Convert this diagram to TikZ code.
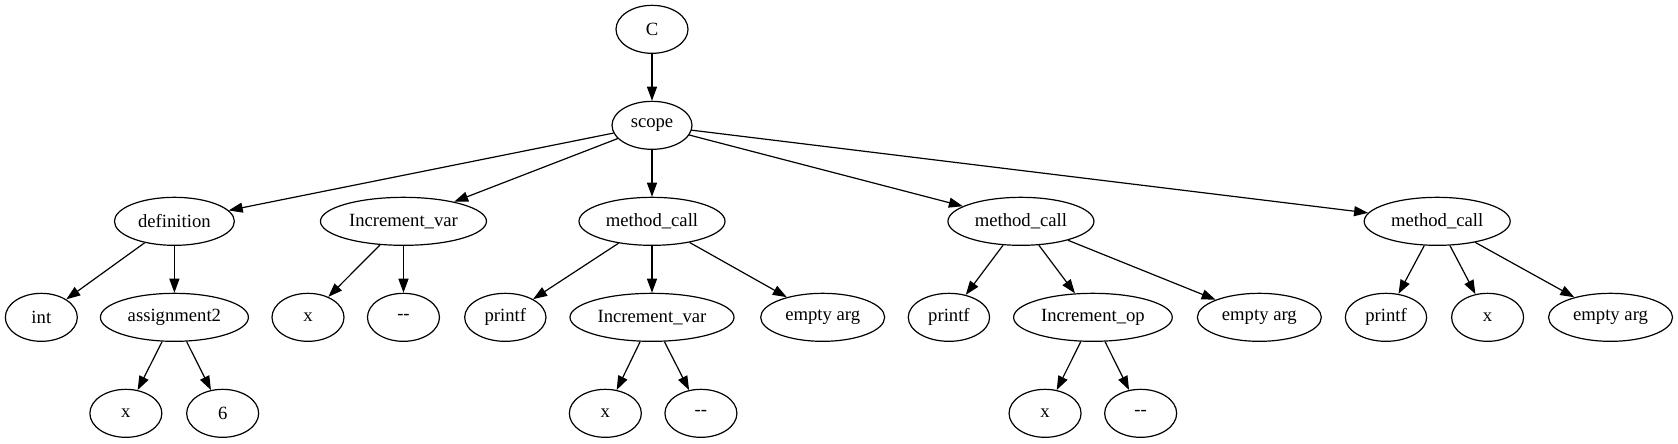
\documentclass[tikz,border=0pt]{standalone}
\usepackage{fontspec}
\setmainfont{Liberation Serif}
\usetikzlibrary{shapes.geometric,arrows.meta}
\newcommand\gvdash{\mbox{-}\mbox{-}}
\tikzset{
  gv/.style={ellipse, draw, line width=0.9pt, inner sep=0pt, minimum height=36pt,
             font=\fontsize{14}{16}\selectfont},
  w/.style={minimum width=#1},
  edge/.style={line width=0.9pt, -{Triangle[length=10.5pt,width=7.5pt]}}
}
\begin{document}
\begin{tikzpicture}[x=1pt,y=1pt]
\useasboundingbox (0,0) rectangle (1258.5,332.25);
% rank 0
\node[gv,w=54pt] (C) at (489,310.25) {C};
% rank 1
\node[gv,w=60pt] (scope) at (489,238.25) {scope};
% rank 2
\node[gv,w=90pt] (def) at (130.8,166.25) {definition};
\node[gv,w=124.5pt] (iv) at (302.6,166.25) {Increment\_var};
\node[gv,w=109.5pt] (mc1) at (489,166.25) {method\_call};
\node[gv,w=109.5pt] (mc2) at (765.7,166.25) {method\_call};
\node[gv,w=109.5pt] (mc3) at (1077.9,166.25) {method\_call};
% rank 3
\node[gv,w=54pt] (int) at (31,94.25) {int};
\node[gv,w=111pt] (asg) at (130.8,94.25) {assignment2};
\node[gv,w=54pt] (ivx) at (231,94.25) {x};
\node[gv,w=54pt] (ivd) at (302.6,94.25) {\gvdash};
\node[gv,w=61pt] (pf1) at (379,94.25) {printf};
\node[gv,w=123pt] (iv2) at (489,94.25) {Increment\_var};
\node[gv,w=93pt] (ea1) at (617,94.25) {empty arg};
\node[gv,w=61pt] (pf2) at (711.7,94.25) {printf};
\node[gv,w=119pt] (iop) at (819.7,94.25) {Increment\_op};
\node[gv,w=93pt] (ea2) at (944.5,94.25) {empty arg};
\node[gv,w=61pt] (pf3) at (1039.5,94.25) {printf};
\node[gv,w=54pt] (x3) at (1115.7,94.25) {x};
\node[gv,w=93pt] (ea3) at (1207.9,94.25) {empty arg};
% rank 4
\node[gv,w=54pt] (ax) at (94.4,22.25) {x};
\node[gv,w=54pt] (a6) at (167,22.25) {6};
\node[gv,w=54pt] (iv2x) at (454,22.25) {x};
\node[gv,w=54pt] (iv2d) at (525.7,22.25) {\gvdash};
\node[gv,w=54pt] (iopx) at (783.8,22.25) {x};
\node[gv,w=54pt] (iopd) at (855.5,22.25) {\gvdash};
% edges
\draw[edge] (C) -- (scope);
\draw[edge] (scope) -- (def);
\draw[edge] (scope) -- (iv);
\draw[edge] (scope) -- (mc1);
\draw[edge] (scope) -- (mc2);
\draw[edge] (scope) -- (mc3);
\draw[edge] (def) -- (int);
\draw[edge] (def) -- (asg);
\draw[edge] (asg) -- (ax);
\draw[edge] (asg) -- (a6);
\draw[edge] (iv) -- (ivx);
\draw[edge] (iv) -- (ivd);
\draw[edge] (mc1) -- (pf1);
\draw[edge] (mc1) -- (iv2);
\draw[edge] (mc1) -- (ea1);
\draw[edge] (iv2) -- (iv2x);
\draw[edge] (iv2) -- (iv2d);
\draw[edge] (mc2) -- (pf2);
\draw[edge] (mc2) -- (iop);
\draw[edge] (mc2) -- (ea2);
\draw[edge] (iop) -- (iopx);
\draw[edge] (iop) -- (iopd);
\draw[edge] (mc3) -- (pf3);
\draw[edge] (mc3) -- (x3);
\draw[edge] (mc3) -- (ea3);
\end{tikzpicture}
\end{document}
